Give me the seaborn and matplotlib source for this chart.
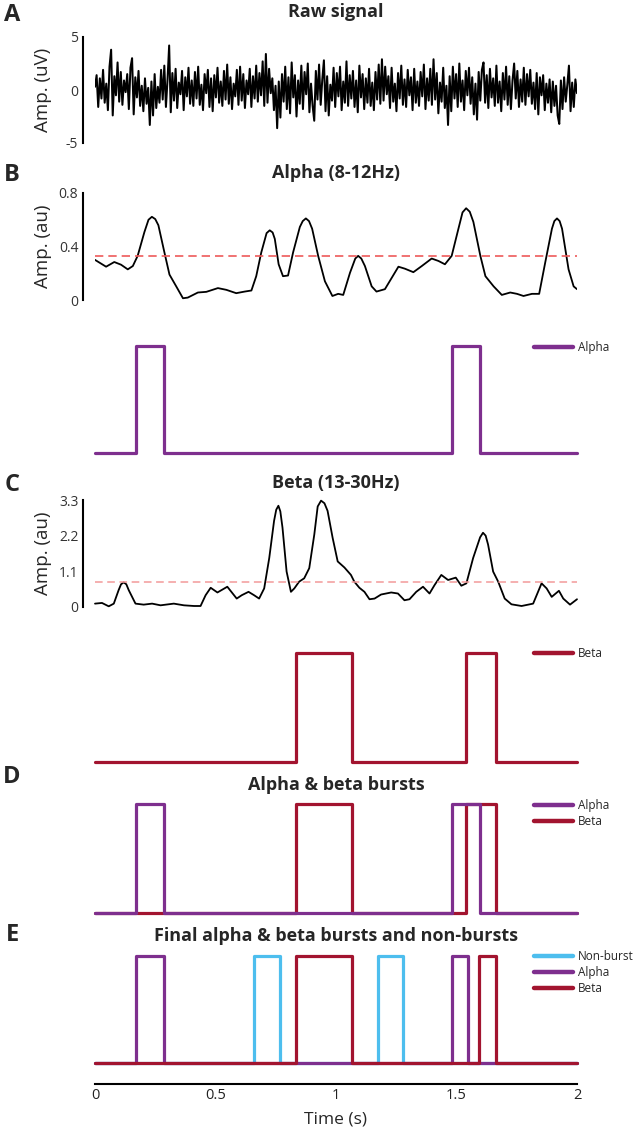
import numpy as np
import matplotlib
matplotlib.use("Agg")
import matplotlib.pyplot as plt
import seaborn as sns

sns.set_theme(style="white")
plt.rcParams['font.family'] = ['Open Sans', 'DejaVu Sans']

# MATLAB default colours used in the figure
PURPLE = "#7E2F8E"
RED = "#A2142F"
BLUE = "#4DBEEE"

# Panel A: raw signal (uV), evenly spaced over 0-2 s
raw_uv = [
    0.3, 1.4, -1.6, 1.1, -0.8, 1.9, -1.2, 0.6, -1.9, 2.2, 3.8, -2.4, 1.3, -0.5, 2.6, -1.1, 1.7, -1.4, 0.9, -0.2,
    1.5, -1.8, 2.1, 3.0, -2.3, 1.2, -0.7, 1.8, -1.5, 0.4, -2.0, 1.1, -1.3, 0.2, -3.3, 0.8, -2.4, 1.5, -1.7, 0.3,
    -1.2, 1.9, -0.9, 2.3, -1.6, 1.0, 4.2, -2.1, 1.6, -1.0, 2.0, -1.7, 0.7, -0.4, 1.8, -1.9, 1.2, -0.6, 2.1, -1.3,
    0.9, -1.5, 1.7, -0.8, 2.2, -1.4, 0.5, -1.9, 1.5, -0.3, 1.9, -1.6, 1.1, -2.0, 1.4, -0.7, 2.1, -1.2, 0.8, -1.5,
    1.8, -0.9, 2.4, -1.3, 1.2, -1.8, 0.6, -0.6, 1.9, -1.4, 2.2, -1.0, 1.5, -1.7, 0.9, -0.4, 2.0, -1.6, 1.3, -0.8,
    2.3, -1.1, 1.6, -0.5, 2.7, -1.5, 3.4, -1.2, 2.0, -0.3, 1.1, -1.9, 0.4, -3.6, 0.8, -2.6, 1.5, -1.1, 2.2, -1.8,
    1.2, -2.2, 2.6, -0.7, 1.4, -2.5, 0.9, -1.3, 2.3, -1.8, 1.7, -0.4, 2.5, -2.1, 0.6, -1.5, -2.9, 1.8, -0.9, 2.4,
    -1.4, 1.0, 2.8, -2.0, 1.3, -2.4, 0.5, -1.0, 2.1, -1.6, 1.6, -0.6, 2.2, -1.9, 0.8, -1.2, 2.7, -1.5, 1.4, -0.8,
    1.8, -1.6, 0.9, -2.1, 2.3, -0.7, 1.5, -1.8, 1.1, -1.2, 2.0, -1.5, 0.7, -1.9, 1.7, -0.9, 2.4, -1.3, 2.9, -1.0,
    2.2, -0.4, 1.3, -1.7, 2.1, -1.1, 0.6, -2.0, 1.6, -0.8, 2.3, -1.4, 1.0, -1.6, 1.9, -0.5, 1.2, -1.9, 2.0, -1.2,
    0.8, -1.5, 1.7, -0.6, 2.4, -1.8, 1.1, -1.0, 2.0, -1.4, 2.9, -0.9, 1.6, -2.2, 0.7, -1.1, 2.1, -1.7, 0.4, -3.3,
    1.3, -2.0, 2.2, -0.8, 1.5, -1.6, 2.5, -1.1, 0.9, -1.9, 1.8, -0.5, 2.1, -1.3, 1.2, -2.3, 0.6, -2.8, 1.7, -1.0,
    1.9, 2.6, -1.2, 1.4, -1.7, 2.0, -0.7, 1.1, -1.5, 2.3, -1.2, 0.8, -2.0, 1.6, -0.9, 2.2, -1.4, 1.3, -1.8, 0.9,
    2.5, -0.8, 1.8, -1.6, 1.0, -1.1, 2.1, -1.4, 1.5, -0.6, 1.9, -1.3, 0.7, -1.8, 1.6, -2.3, 1.2, -0.5, 1.4, -1.9,
    0.6, -1.2, 1.0, -2.1, 0.8, -1.5, 0.4, -2.4, -3.2, 0.9, -1.8, 1.2, -1.1, 0.5, 2.3, -2.0, 0.7, -1.6, 1.0, -0.3,
]
raw_t = np.linspace(0, 2, len(raw_uv))

# Panel B: alpha amplitude envelope
alpha_t = [0.0, 0.046, 0.080, 0.108, 0.136, 0.157, 0.177, 0.205, 0.222, 0.236, 0.250, 0.263, 0.288,
           0.309, 0.337, 0.365, 0.385, 0.427, 0.462, 0.510, 0.545, 0.586, 0.621, 0.649, 0.669, 0.690,
           0.712, 0.725, 0.737, 0.746, 0.762, 0.780, 0.801, 0.822, 0.850, 0.862, 0.875, 0.888, 0.901,
           0.926, 0.954, 0.985, 1.009, 1.030, 1.058, 1.080, 1.092, 1.105, 1.120, 1.148, 1.168, 1.203,
           1.231, 1.259, 1.286, 1.321, 1.356, 1.397, 1.425, 1.452, 1.480, 1.508, 1.525, 1.540, 1.555,
           1.570, 1.599, 1.620, 1.654, 1.688, 1.723, 1.751, 1.778, 1.813, 1.843, 1.868, 1.896, 1.906,
           1.917, 1.928, 1.938, 1.965, 1.986, 2.0]
alpha_amp = [0.300, 0.249, 0.284, 0.264, 0.229, 0.254, 0.330, 0.508, 0.600, 0.622, 0.605, 0.559, 0.356,
             0.190, 0.102, 0.013, 0.018, 0.056, 0.061, 0.089, 0.076, 0.051, 0.063, 0.071, 0.178, 0.356,
             0.500, 0.521, 0.505, 0.457, 0.267, 0.178, 0.183, 0.356, 0.546, 0.590, 0.610, 0.590, 0.533,
             0.330, 0.140, 0.030, 0.046, 0.038, 0.203, 0.310, 0.330, 0.310, 0.254, 0.102, 0.063, 0.081,
             0.165, 0.249, 0.234, 0.208, 0.254, 0.310, 0.292, 0.267, 0.330, 0.533, 0.655, 0.686, 0.660,
             0.584, 0.330, 0.178, 0.102, 0.038, 0.056, 0.046, 0.030, 0.046, 0.046, 0.279, 0.533, 0.590,
             0.610, 0.590, 0.533, 0.229, 0.102, 0.081]
alpha_thr = 0.33

# Panel C: beta amplitude envelope
beta_t = [0.0, 0.029, 0.057, 0.078, 0.098, 0.108, 0.119, 0.130, 0.140, 0.168, 0.202, 0.237, 0.272,
          0.327, 0.369, 0.411, 0.438, 0.459, 0.480, 0.508, 0.549, 0.588, 0.609, 0.637, 0.660, 0.681,
          0.702, 0.723, 0.743, 0.752, 0.761, 0.769, 0.778, 0.795, 0.813, 0.827, 0.847, 0.868, 0.889,
          0.910, 0.924, 0.938, 0.952, 0.965, 0.986, 1.007, 1.035, 1.062, 1.076, 1.097, 1.118, 1.139,
          1.160, 1.187, 1.229, 1.257, 1.284, 1.305, 1.333, 1.361, 1.388, 1.409, 1.437, 1.465, 1.497,
          1.520, 1.541, 1.569, 1.598, 1.610, 1.621, 1.631, 1.652, 1.673, 1.700, 1.728, 1.770, 1.818,
          1.853, 1.874, 1.895, 1.925, 1.943, 1.971, 2.0]
beta_amp = [0.104, 0.125, 0.021, 0.104, 0.520, 0.700, 0.760, 0.700, 0.520, 0.104, 0.073, 0.104, 0.052,
            0.104, 0.052, 0.031, 0.031, 0.364, 0.593, 0.448, 0.625, 0.260, 0.364, 0.468, 0.364, 0.260,
            0.573, 1.510, 2.655, 3.000, 3.123, 2.950, 2.447, 1.093, 0.468, 0.573, 0.781, 0.885, 1.197,
            2.238, 3.100, 3.280, 3.200, 2.967, 2.134, 1.405, 1.218, 0.989, 0.781, 0.593, 0.468, 0.239,
            0.260, 0.385, 0.448, 0.416, 0.208, 0.239, 0.468, 0.625, 0.416, 0.677, 0.989, 0.833, 0.906,
            0.656, 0.729, 1.510, 2.150, 2.290, 2.200, 1.926, 1.093, 0.781, 0.260, 0.083, 0.031, 0.104,
            0.729, 0.573, 0.312, 0.500, 0.260, 0.073, 0.239]
beta_thr = 0.78

# Burst on/off times (s)
alpha_on, alpha_off = [0.169, 1.480], [0.287, 1.598]
beta_on, beta_off = [0.835, 1.541], [1.065, 1.662]
final_alpha_on, final_alpha_off = [0.169, 1.480], [0.287, 1.549]
final_beta_on, final_beta_off = [0.835, 1.592], [1.065, 1.662]
nonburst_on, nonburst_off = [0.658, 1.173], [0.768, 1.279]


def steps(on, off):
    x, y = [0.0], [0.0]
    for a, b in zip(on, off):
        x += [a, a, b, b]
        y += [0, 1, 1, 0]
    x.append(2.0)
    y.append(0.0)
    return x, y


FW, FH = 636, 1132
fig = plt.figure(figsize=(FW / 100, FH / 100), dpi=100)
X0, X1 = 95, 577


def add_ax(top, bottom):
    return fig.add_axes([X0 / FW, 1 - bottom / FH, (X1 - X0) / FW, (bottom - top) / FH])


def style_amp(ax, ticks, labels, ylabel):
    for s in ["top", "right", "bottom"]:
        ax.spines[s].set_visible(False)
    ax.spines["left"].set_position(("outward", 9))
    ax.spines["left"].set_color("black")
    ax.spines["left"].set_linewidth(1.5)
    ax.set_xlim(0, 2)
    ax.set_ylim(ticks[0], ticks[-1])
    ax.set_xticks([])
    ax.set_yticks(ticks)
    ax.set_yticklabels(labels)
    ax.tick_params(axis="y", direction="in", length=4, width=1.5, labelsize=10,
                   colors="black", labelcolor="#333333", pad=3)
    ax.set_xlabel("")
    ax.set_ylabel(ylabel, fontsize=13.5)
    ax.yaxis.set_label_coords(-0.09, 0.5)


def style_burst(ax):
    ax.set_xlim(0, 2)
    ax.set_ylim(0, 1)
    ax.set_axis_off()
    for ln in ax.lines:
        ln.set_clip_on(False)


def burst_legend(ax, order, top):
    handles, labels = ax.get_legend_handles_labels()
    lut = dict(zip(labels, handles))
    leg = ax.legend([lut[k] for k in order], order, loc="upper left",
                    bbox_to_anchor=(534 / FW, 1 - top / FH), bbox_transform=fig.transFigure,
                    frameon=False, fontsize=8.5, handlelength=3.3, handletextpad=0.4,
                    labelspacing=0.25, borderpad=0, borderaxespad=0)
    for ln in leg.get_lines():
        ln.set_linewidth(3.2)


# A: raw signal
axA = add_ax(37, 143)
sns.lineplot(x=raw_t, y=raw_uv, ax=axA, color="black", linewidth=1.45, estimator=None, sort=False)
style_amp(axA, [-5, 0, 5], ["-5", "0", "5"], "Amp. (uV)")

# B: alpha envelope
axB = add_ax(193, 300)
sns.lineplot(x=alpha_t, y=alpha_amp, ax=axB, color="black", linewidth=1.3, estimator=None, sort=False)
axB.axhline(alpha_thr, color="#EE5A5A", linewidth=1.2, dashes=(5, 3))
style_amp(axB, [0, 0.4, 0.8], ["0", "0.4", "0.8"], "Amp. (au)")

# alpha bursts
axBb = add_ax(346, 453)
xa, ya = steps(alpha_on, alpha_off)
sns.lineplot(x=xa, y=ya, ax=axBb, color=PURPLE, linewidth=2.3, estimator=None, sort=False, label="Alpha")
style_burst(axBb)
burst_legend(axBb, ["Alpha"], 341)

# C: beta envelope
axC = add_ax(500, 607)
sns.lineplot(x=beta_t, y=beta_amp, ax=axC, color="black", linewidth=1.3, estimator=None, sort=False)
axC.axhline(beta_thr, color="#F39A9A", linewidth=1.1, dashes=(5, 3))
style_amp(axC, [0, 1.1, 2.2, 3.3], ["0", "1.1", "2.2", "3.3"], "Amp. (au)")
for ln in axC.lines:
    ln.set_clip_on(False)

# beta bursts
axCb = add_ax(653, 762)
xb, yb = steps(beta_on, beta_off)
sns.lineplot(x=xb, y=yb, ax=axCb, color=RED, linewidth=2.3, estimator=None, sort=False, label="Beta")
style_burst(axCb)
burst_legend(axCb, ["Beta"], 647)

# D: alpha & beta bursts
axD = add_ax(804, 913)
sns.lineplot(x=xb, y=yb, ax=axD, color=RED, linewidth=2.3, estimator=None, sort=False, label="Beta")
sns.lineplot(x=xa, y=ya, ax=axD, color=PURPLE, linewidth=2.3, estimator=None, sort=False, label="Alpha")
style_burst(axD)
burst_legend(axD, ["Alpha", "Beta"], 799)

# E: final bursts and non-bursts
axE = add_ax(956, 1063)
xn, yn = steps(nonburst_on, nonburst_off)
xfa, yfa = steps(final_alpha_on, final_alpha_off)
xfb, yfb = steps(final_beta_on, final_beta_off)
sns.lineplot(x=xn, y=yn, ax=axE, color=BLUE, linewidth=2.3, estimator=None, sort=False, label="Non-burst")
sns.lineplot(x=xfa, y=yfa, ax=axE, color=PURPLE, linewidth=2.3, estimator=None, sort=False, label="Alpha")
sns.lineplot(x=xfb, y=yfb, ax=axE, color=RED, linewidth=2.3, estimator=None, sort=False, label="Beta")
axE.set_xlim(0, 2)
axE.set_ylim(0, 1)
for ln in axE.lines:
    ln.set_clip_on(False)
for s in ["top", "right", "left"]:
    axE.spines[s].set_visible(False)
axE.spines["bottom"].set_position(("outward", 15))
axE.spines["bottom"].set_color("black")
axE.spines["bottom"].set_linewidth(1.5)
axE.set_yticks([])
axE.set_xticks([0, 0.5, 1, 1.5, 2])
axE.set_xticklabels(["0", "0.5", "1", "1.5", "2"])
axE.tick_params(axis="x", direction="in", length=5, width=1.5, labelsize=10.5,
                colors="black", labelcolor="#222222", pad=3)
axE.set_xlabel("Time (s)", fontsize=12.5, labelpad=6)
axE.set_ylabel("")
burst_legend(axE, ["Non-burst", "Alpha", "Beta"], 950)

# titles and panel letters
titles = [(12, "Raw signal"), (173, "Alpha (8-12Hz)"), (483, "Beta (13-30Hz)"),
          (785, "Alpha & beta bursts"), (936, "Final alpha & beta bursts and non-bursts")]
for y, txt in titles:
    fig.text((X0 + X1) / 2 / FW, 1 - y / FH, txt, ha="center", va="center",
             fontsize=13, fontweight="bold")
letters = [(15, "A"), (175, "B"), (485, "C"), (777, "D"), (935, "E")]
for y, txt in letters:
    fig.text(12 / FW, 1 - y / FH, txt, ha="center", va="center", fontsize=17, fontweight="bold")

fig.savefig("out.png", dpi=100)
